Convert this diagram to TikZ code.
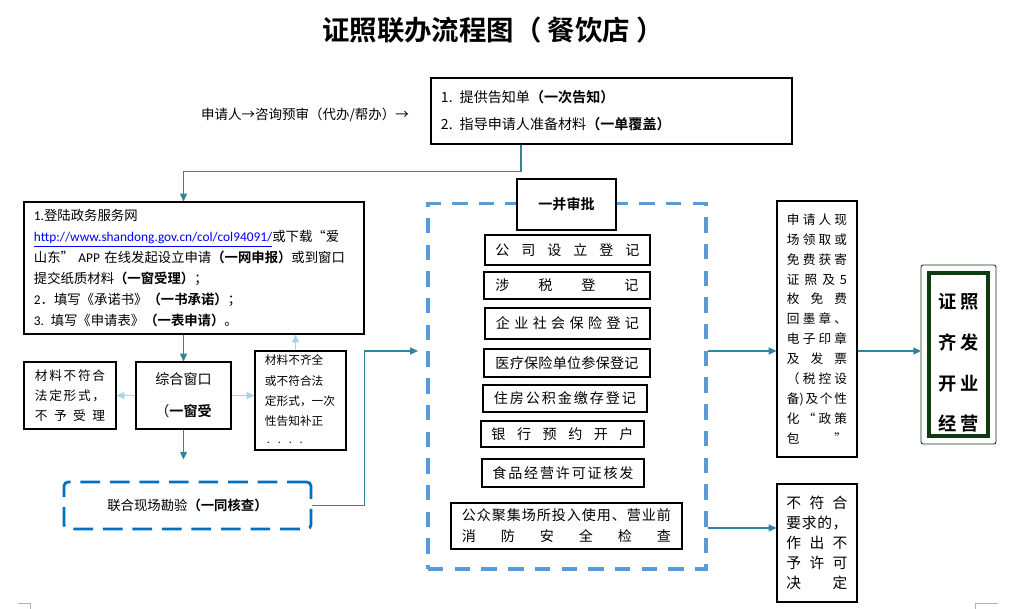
\documentclass[tikz,border=0pt]{standalone}
\usepackage{fontspec}
\setmainfont{Noto Sans CJK SC}[BoldFont={Noto Sans CJK SC Bold}]
\newfontfamily\carl{Carlito}
\usetikzlibrary{arrows.meta,calc,positioning}

\definecolor{lineteal}{HTML}{31849B}
\definecolor{lightteal}{HTML}{A6D4E3}
\definecolor{dashblue}{HTML}{5B9BD5}
\definecolor{deepblue}{HTML}{0070C0}
\definecolor{linkblue}{HTML}{0000FF}
\definecolor{fingreen}{HTML}{103A10}

% spread the characters of #2 over width #1
\makeatletter
\newcommand\sprd[2]{\makebox[#1][s]{\sprd@loop#2\sprd@end}}
\def\sprd@loop#1{#1\futurelet\sprd@tok\sprd@check}
\def\sprd@check{\ifx\sprd@tok\sprd@end\expandafter\@gobble\else\hfill\expandafter\sprd@loop\fi}
\def\sprd@end{}
\makeatother

\begin{document}
\begin{tikzpicture}[
    x=0.025cm, y=-0.025cm,
    every node/.style={font=\fontsize{10}{14}\selectfont, inner sep=0pt},
    box/.style={draw, line width=0.8pt, align=center},
    surveybox/.style={draw=deepblue, line width=2pt, dash pattern=on 14pt off 7pt, rounded corners=3pt},
    bigdash/.style={draw=dashblue, line width=2.2pt, dash pattern=on 11pt off 8pt},
    finalbox/.style={draw=fingreen, line width=2.8pt, align=center},
    arrow/.style={-{Triangle[length=5.5pt,width=5pt]}, draw=lineteal, line width=0.9pt},
    lightarrow/.style={-{Triangle[length=5.5pt,width=5pt]}, draw=lightteal, line width=0.9pt},
    cornermark/.style={draw=gray!60, line width=0.6pt}
  ]
    \useasboundingbox (0,0) rectangle (1009,609);

    % title and first step
    \node[font=\bfseries\fontsize{19.5}{19.5}\selectfont] (title) at (493,30) {证照联办流程图（ 餐饮店 ）};
    \node[font=\fontsize{9.6}{9.6}\selectfont] (consult) at (305,115) {申请人→咨询预审（代办/帮办）→};
    \node[box, minimum width=9.025cm, minimum height=1.65cm, text width=8.525cm, inner xsep=0.25cm,
      align=left, font=\fontsize{10}{19}\selectfont] (topbox) at (611.5,111)
      {1. 提供告知单\textbf{（一次告知）}\\2. 指导申请人准备材料\textbf{（一单覆盖）}};

    % application
    \node[box, text width=8cm, inner xsep=0.25cm, minimum height=3.3cm, align=left,
      font=\fontsize{9.5}{14.9}\selectfont] (box1) at (194,268) {%
      {\carl 1.}登陆政务服务网\\
      \textcolor{linkblue}{\underline{\carl http://www.shandong.gov.cn/col/col94091/}}或下载“爱\\
      山东” {\carl APP} 在线发起设立申请\textbf{（一网申报）}或到窗口\\
      提交纸质材料\textbf{（一窗受理）}；\\
      {\carl 2}．填写《承诺书》\textbf{（一书承诺）}；\\
      {\carl 3.} 填写《申请表》\textbf{（一表申请）}。};

    \node[box, minimum width=2.375cm, minimum height=1.675cm, font=\fontsize{10}{22.7}\selectfont]
      (winbox) at (183.5,395.5) {综合窗口\\（\textbf{一窗受}};
    \node[box, minimum width=2.3cm, minimum height=1.675cm, font=\fontsize{9}{14.2}\selectfont]
      (reject) at (70,395.5) {\sprd{1.75cm}{材料不符合}\\\sprd{1.75cm}{法定形式，}\\\sprd{1.75cm}{不予受理}};
    \node[box, minimum width=2.275cm, minimum height=2.475cm, text width=1.775cm, inner xsep=0.25cm,
      align=left, font=\fontsize{8.3}{14.4}\selectfont] (correct) at (300.5,400.5)
      {材料不齐全\\或不符合法\\定形式，一次\\性告知补正\\{\tiny · · · ·}};
    \node[surveybox, minimum width=6.175cm, minimum height=1.175cm, font=\fontsize{9.5}{9.5}\selectfont]
      (survey) at (187.5,505.5) {联合现场勘验\textbf{（一同核查）}};

    % joint approval
    \node[bigdash, minimum width=6.95cm, minimum height=9.125cm] (approve) at (567,386.5) {};
    \node[box, fill=white, minimum width=2.475cm, minimum height=1.275cm, font=\bfseries\fontsize{10}{10}\selectfont]
      (head) at (566.5,204.5) {一并审批};
    \node[box, minimum width=4.125cm, minimum height=0.75cm] (item1) at (567.5,250) {\sprd{3.6cm}{公司设立登记}};
    \node[box, minimum width=4.15cm, minimum height=0.675cm] (item2) at (567,285.5) {\sprd{3.575cm}{涉税登记}};
    \node[box, minimum width=4.125cm, minimum height=0.775cm] (item3) at (567.5,323.5) {\sprd{3.575cm}{企业社会保险登记}};
    \node[box, minimum width=4.15cm, minimum height=0.7cm] (item4) at (567,363) {\sprd{3.575cm}{医疗保险单位参保登记}};
    \node[box, minimum width=4.1cm, minimum height=0.675cm] (item5) at (565,398.5) {\sprd{3.55cm}{住房公积金缴存登记}};
    \node[box, minimum width=4.075cm, minimum height=0.65cm] (item6) at (562.5,434) {\sprd{3.55cm}{银行预约开户}};
    \node[box, minimum width=4.05cm, minimum height=0.7cm] (item7) at (563,473) {\sprd{3.525cm}{食品经营许可证核发}};
    \node[box, minimum width=5.775cm, minimum height=1.15cm, font=\fontsize{10}{14.9}\selectfont] (item8) at (566.5,526)
      {\sprd{5.225cm}{公众聚集场所投入使用、营业前}\\\sprd{5.225cm}{消防安全检查}};

    % results
    \node[box, minimum width=2cm, minimum height=6.4cm, font=\fontsize{9}{14.2}\selectfont] (r1) at (817,329) {%
      \sprd{1.5cm}{申请人现}\\\sprd{1.5cm}{场领取或}\\\sprd{1.5cm}{免费获寄}\\\sprd{1.5cm}{证照及5}\\
      \sprd{1.5cm}{枚免费}\\\sprd{1.5cm}{回墨章、}\\\sprd{1.5cm}{电子印章}\\\sprd{1.5cm}{及发票}\\
      \sprd{1.5cm}{（税控设}\\\sprd{1.5cm}{{备)}及个性}\\\sprd{1.5cm}{化“政策}\\\sprd{1.5cm}{包”}};
    \node[box, minimum width=2cm, minimum height=2.95cm, font=\fontsize{10.5}{14.2}\selectfont] (r2) at (817,543) {%
      \sprd{1.525cm}{不符合}\\\sprd{1.525cm}{要求的，}\\\sprd{1.525cm}{作出不}\\\sprd{1.525cm}{予许可}\\\sprd{1.525cm}{决定}};
    \node[finalbox, minimum width=1.475cm, minimum height=4.075cm, font=\bfseries\fontsize{13}{29}\selectfont]
      (final) at (958.5,354.5) {\rule{0pt}{0.8cm}\sprd{1cm}{证照}\\\sprd{1cm}{齐发}\\\sprd{1cm}{开业}\\\sprd{1cm}{经营}};
    \draw[fingreen, line width=0.6pt, rounded corners=1.5pt]
      ($(final.north west)+(-6,-6)$) rectangle ($(final.south east)+(6,6)$);

    \coordinate (midy) at (567,351);
    \coordinate (lowy) at (567,528);

    % connectors
    \draw[arrow] ($(topbox.south west)!0.25!(topbox.south east)$) -- ++(0,27) -| (winbox |- box1.north);
    \draw[arrow] (winbox |- box1.south) -- (winbox.north);
    \draw[lightarrow] (winbox.west) -- (reject.east);
    \draw[lightarrow] (winbox.east) -- (winbox.east -| correct.west);
    \draw[lightarrow] ($(correct.north)+(-5,0)$) -- ($(correct.north |- box1.south)+(-5,0)$);
    \draw[arrow, shorten >=15pt] (winbox.south) -- (winbox.south |- survey.north);
    \draw[arrow, shorten >=6pt] (survey.east) -- ++(52,0) |- (approve.west |- midy);
    \draw[arrow] (approve.east |- midy) -- (r1.west |- midy);
    \draw[arrow] (r1.east |- midy) -- ($(final.west |- midy)+(-6,0)$);
    \draw[arrow] (approve.east |- lowy) -- (r2.west |- lowy);

    % page corner marks
    \draw[cornermark] (18,603) -- (30,603) -- (30,609);
    \draw[cornermark] (975,609) -- (975,603) -- (998,603);
  \end{tikzpicture}
\end{document}
